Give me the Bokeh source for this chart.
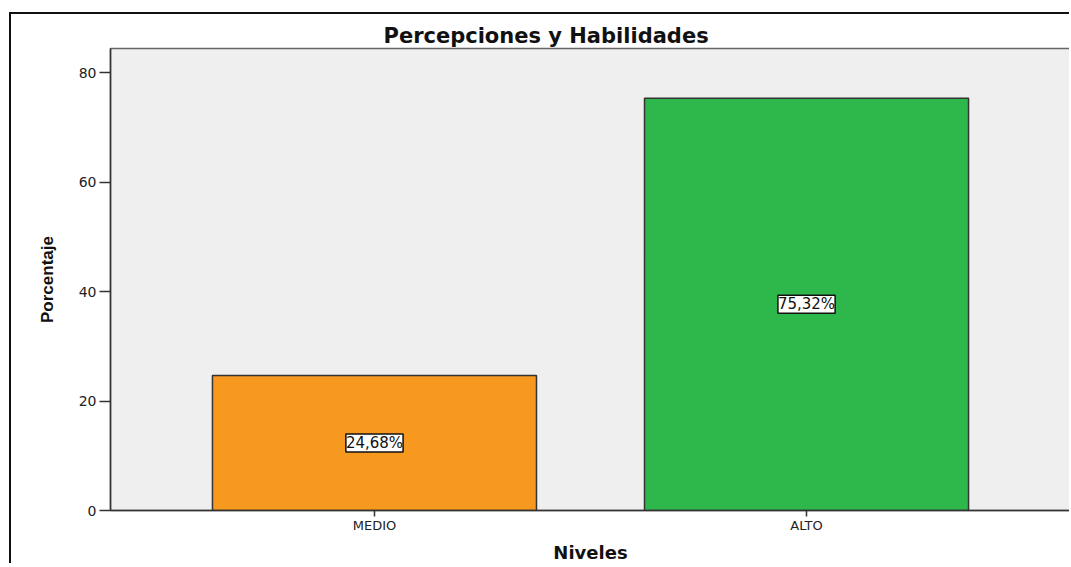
from bokeh.plotting import figure
from bokeh.models import ColumnDataSource, LabelSet, Range1d, FactorRange, FixedTicker
from bokeh.core.properties import value
from bokeh.embed import file_html
from bokeh.resources import INLINE

# ---- data ----
categories = ["MEDIO", "ALTO"]
percentages = [24.68, 75.32]
bar_colors = ["#F7991F", "#2EB84B"]
y_ticks = [0, 20, 40, 60, 80]
title_text = "Percepciones y Habilidades"
x_label = "Niveles"
y_label = "Porcentaje"

value_labels = [f"{v:.2f}".replace(".", ",") + "%" for v in percentages]
src = ColumnDataSource(dict(
    cat=categories,
    val=percentages,
    mid=[v / 2 for v in percentages],
    color=bar_colors,
    label=value_labels,
))

p = figure(
    width=1060, height=551,
    x_range=FactorRange(*categories, range_padding=0.111, range_padding_units="percent"),
    y_range=Range1d(0, 84.4),
    output_backend="svg", toolbar_location=None,
    min_border_left=99, min_border_right=1, min_border_top=34, min_border_bottom=50,
)
# outer frame of the picture: only its top and left edges fall inside the window
p.styles = {"border-left": "2px solid #111111", "border-top": "2px solid #111111",
            "margin-left": "9px", "margin-top": "12px"}

p.background_fill_color = "#EFEFEF"
p.border_fill_color = "white"
p.outline_line_color = "#666666"
p.outline_line_width = 1.5
p.xgrid.visible = False
p.ygrid.visible = False

p.vbar(x="cat", top="val", bottom=0, width=0.75, source=src,
       fill_color="color", line_color="#333333", line_width=1.5)

labels = LabelSet(x="cat", y="mid", text="label", source=src,
                  text_align="center", text_baseline="middle",
                  text_font=value("DejaVu Sans"), text_font_size=value("15px"),
                  text_color="#111111",
                  background_fill_color="white", border_line_color="#111111",
                  border_line_width=1.5)
p.add_layout(labels)

# title
p.title.text = title_text
p.title.text_font = "DejaVu Sans"
p.title.text_font_style = "bold"
p.title.text_font_size = "21px"
p.title.text_color = "#111111"
p.title.align = "left"
p.title.offset = 273
p.title.standoff = 2

# y axis
p.yaxis.ticker = FixedTicker(ticks=y_ticks)
p.yaxis.minor_tick_line_color = None
p.yaxis.major_tick_out = 11
p.yaxis.major_tick_in = 0
p.yaxis.major_tick_line_color = "#333333"
p.yaxis.major_tick_line_width = 1.5
p.yaxis.axis_line_color = "#333333"
p.yaxis.axis_line_width = 1.5
p.yaxis.major_label_text_font = "DejaVu Sans"
p.yaxis.major_label_text_font_size = "14px"
p.yaxis.major_label_text_color = "#222222"
p.yaxis.major_label_standoff = 3
p.yaxis.axis_label = y_label
p.yaxis.axis_label_text_font = "Liberation Sans"
p.yaxis.axis_label_text_font_style = "bold"
p.yaxis.axis_label_text_font_size = "17px"
p.yaxis.axis_label_text_color = "#111111"
p.yaxis.axis_label_standoff = 19

# x axis
p.xaxis.major_tick_out = 6
p.xaxis.major_tick_in = 0
p.xaxis.major_tick_line_color = "#333333"
p.xaxis.major_tick_line_width = 1.5
p.xaxis.axis_line_color = "#333333"
p.xaxis.axis_line_width = 1.5
p.xaxis.major_label_text_font = "DejaVu Sans"
p.xaxis.major_label_text_font_size = "13px"
p.xaxis.major_label_text_color = "#222222"
p.xaxis.major_label_standoff = 1
p.xaxis.axis_label = x_label
p.xaxis.axis_label_text_font = "DejaVu Sans"
p.xaxis.axis_label_text_font_style = "bold"
p.xaxis.axis_label_text_font_size = "18px"
p.xaxis.axis_label_text_color = "#111111"
p.xaxis.axis_label_standoff = 6

open("out.html", "w").write(file_html(p, INLINE))
